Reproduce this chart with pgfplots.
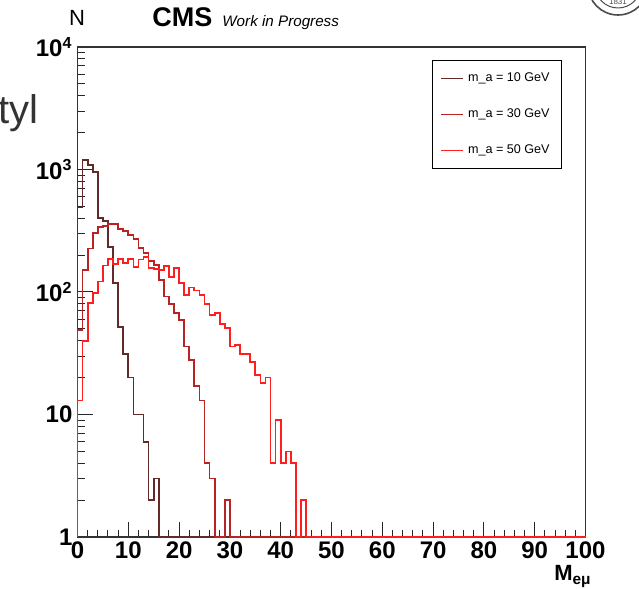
\documentclass[border=0pt]{standalone}
\usepackage{fontspec}
\setmainfont{Liberation Sans}
\usepackage{pgfplots}
\pgfplotsset{compat=1.18}
\definecolor{cA}{RGB}{100,42,42}
\definecolor{cB}{RGB}{185,35,35}
\definecolor{cC}{RGB}{255,30,30}
\begin{document}
\begin{tikzpicture}
\useasboundingbox (0pt,0pt) rectangle (319.5pt,294.5pt);
\begin{axis}[
  at={(38.75pt,26pt)}, anchor=south west,
  scale only axis, width=254pt, height=245pt,
  xmin=0, xmax=100, ymode=log, ymin=1, ymax=10000,
  clip=false,
  xtick={0,10,...,100}, minor x tick num=4,
  ytick={1,10,100,1000,10000},
  yticklabels={1,10,10\textsuperscript{2},10\textsuperscript{3},10\textsuperscript{4}},
  minor ytick={2,3,4,5,6,7,8,9,20,30,40,50,60,70,80,90,200,300,400,500,600,700,800,900,2000,3000,4000,5000,6000,7000,8000,9000},
  tick align=inside, xtick pos=bottom, ytick pos=left,
  major tick length=7.5pt, minor tick length=3.75pt,
  tick style={black!85, line width=0.5pt},
  axis line style={black!80, line width=0.7pt},
  /pgf/number format/assume math mode=true,
  xticklabel style={font=\bfseries\fontsize{12}{12}\selectfont, yshift=1pt},
  yticklabel style={font=\bfseries\fontsize{12}{12}\selectfont, xshift=1pt},
  legend style={at={(axis description cs:0.954,0.973)}, anchor=north east,
    draw=black, line width=0.5pt, font=\fontsize{6.3}{7}\selectfont,
    row sep=8pt, inner xsep=4pt, inner ysep=4pt, cells={anchor=west}},
  legend image code/.code={\draw[#1, line width=0.6pt] (0pt,0pt) -- (11pt,0pt);},
]
\addplot[cA, line width=0.85pt, const plot mark left] table {
x y
0 1
0 490
1 1190
2 1090
3 950
4 400
5 380
6 232
7 119
8 52
9 31
10 20
11 10
12 10
13 6
14 2
15 3
16 1
100 1
};
\addlegendentry{m\_a = 10 GeV}
\addplot[cB, line width=0.85pt, const plot mark left] table {
x y
0 1
0 49
1 152
2 226
3 305
4 339
5 345
6 361
7 361
8 328
9 314
10 291
11 272
12 229
13 209
14 179
15 167
16 126
17 92
18 80
19 67
20 59
21 36
22 28
23 17
24 13
25 4
26 3
27 1
28 1
29 2
30 1
100 1
};
\addlegendentry{m\_a = 30 GeV}
\addplot[cC, line width=0.85pt, const plot mark left] table {
x y
0 1
0 13
1 40
2 81
3 98
4 122
5 165
6 187
7 170
8 187
9 173
10 187
11 160
12 184
13 194
14 157
15 155
16 152
17 162
18 132
19 157
20 119
21 95
22 109
23 103
24 95
25 80
26 65
27 67
28 55
29 51
30 36
31 37
32 31
33 31
34 27
35 21
36 18
37 20
38 4
39 9
40 4
41 5
42 4
43 1
44 2
45 1
100 1
};
\addlegendentry{m\_a = 50 GeV}
\end{axis}
\node[anchor=base west, font=\fontsize{11}{11}\selectfont] at (31pt,281.5pt) {N};
\node[anchor=base west, inner sep=0pt, font=\bfseries\fontsize{13.5}{13.5}\selectfont] at (76pt,281pt) {CMS};
\node[anchor=base west, inner sep=0pt, font=\itshape\fontsize{7.6}{7.6}\selectfont] at (111pt,281pt) {Work in Progress};
\node[anchor=base west, inner sep=0pt, text=black!80, font=\fontsize{20}{20}\selectfont] at (-1pt,232.5pt) {tyl};
\node[anchor=base east, inner sep=0pt, font=\bfseries\fontsize{11}{11}\selectfont] at (296pt,4pt) {M\textsubscript{eμ}};
\draw[black!70, line width=0.8pt] (309pt,302pt) circle (15pt);
\draw[black!70, line width=0.5pt] (309pt,302pt) circle (11.5pt);
\node[font=\fontsize{4}{4}\selectfont, text=black!70] at (309pt,293.5pt) {1831};
\end{tikzpicture}
\end{document}
